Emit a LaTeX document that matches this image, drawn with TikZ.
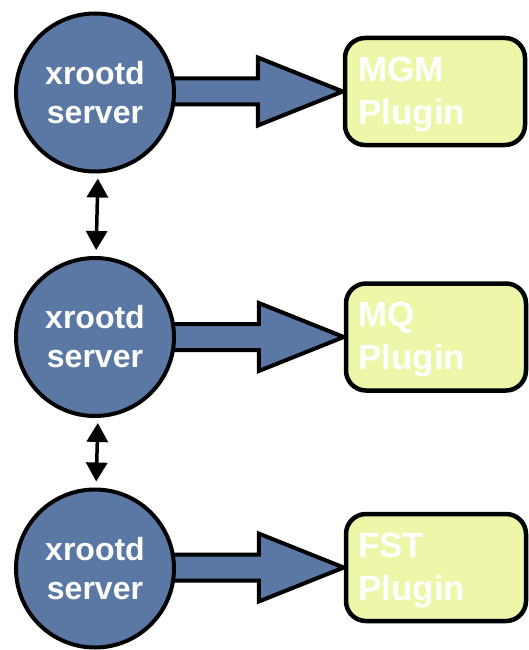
\documentclass[tikz,border=0pt]{standalone}
\usepackage{fontspec}
\setmainfont{Liberation Sans}
\usetikzlibrary{calc,arrows.meta,backgrounds}
\definecolor{serverblue}{HTML}{5B78A4}
\definecolor{pluginyellow}{HTML}{EEF6AA}
\tikzset{
  server/.style={circle, draw=black, line width=4pt, fill=serverblue,
    minimum size=158pt, inner sep=0pt, text=white, align=center,
    font=\fontsize{32}{39}\selectfont\bfseries},
  plugin/.style={rectangle, rounded corners=20pt, draw=black, line width=4.5pt,
    fill=pluginyellow, minimum width=180pt, minimum height=107pt},
  plugintext/.style={anchor=north west, inner sep=0pt, align=left,
    text=white, font=\fontsize{35}{43}\selectfont\bfseries},
  blockarrow/.style={draw=black, line width=4pt, fill=serverblue},
  linkarrow/.style={line width=3.5pt,
    {Triangle[length=19pt,width=21pt]}-{Triangle[length=19pt,width=21pt]},
    shorten <=5pt, shorten >=6pt}
}
\begin{document}
\begin{tikzpicture}[x=1pt,y=-1pt]
\useasboundingbox (0,0) rectangle (529,650);

% xrootd servers
\node[server] (c1) at (95,92.5) {xrootd\\server};
\node[server] (c2) at (95,337) {xrootd\\server};
\node[server] (c3) at (95,568.5) {xrootd\\server};

% plugins
\node[plugin] (b1) at (435,91.5) {};
\node[plugin] (b2) at (436,337) {};
\node[plugin] (b3) at (436,567.5) {};

% plugin names, set in the upper left of each box
\node[plugintext] (t1) at ($(b1.center)+(-77,-35)$) {MGM\\Plugin};
\node[plugintext] (t2) at ($(b2.center)+(-78,-35)$) {MQ\\Plugin};
\node[plugintext] (t3) at ($(b3.center)+(-78,-35)$) {FST\\Plugin};

% block arrows from each server into its plugin
\begin{scope}[on background layer]
\foreach \s/\p in {c1/b1, c2/b2, c3/b3}{
  \draw[blockarrow]
    ($(\s.center |- \p.west)+(60,-13)$) -- ($(\p.west)+(-85,-13)$)
    -- ($(\p.west)+(-85,-34)$) -- (\p.west)
    -- ($(\p.west)+(-85,34)$) -- ($(\p.west)+(-85,13)$)
    -- ($(\s.center |- \p.west)+(60,13)$) -- cycle;
}
\end{scope}

% links between the servers
\draw[linkarrow] ($(c1.south)+(3,0)$) -- ($(c2.north)+(1,0)$);
\draw[linkarrow] ($(c2.south)+(3,0)$) -- ($(c3.north)+(1,0)$);
\end{tikzpicture}
\end{document}
